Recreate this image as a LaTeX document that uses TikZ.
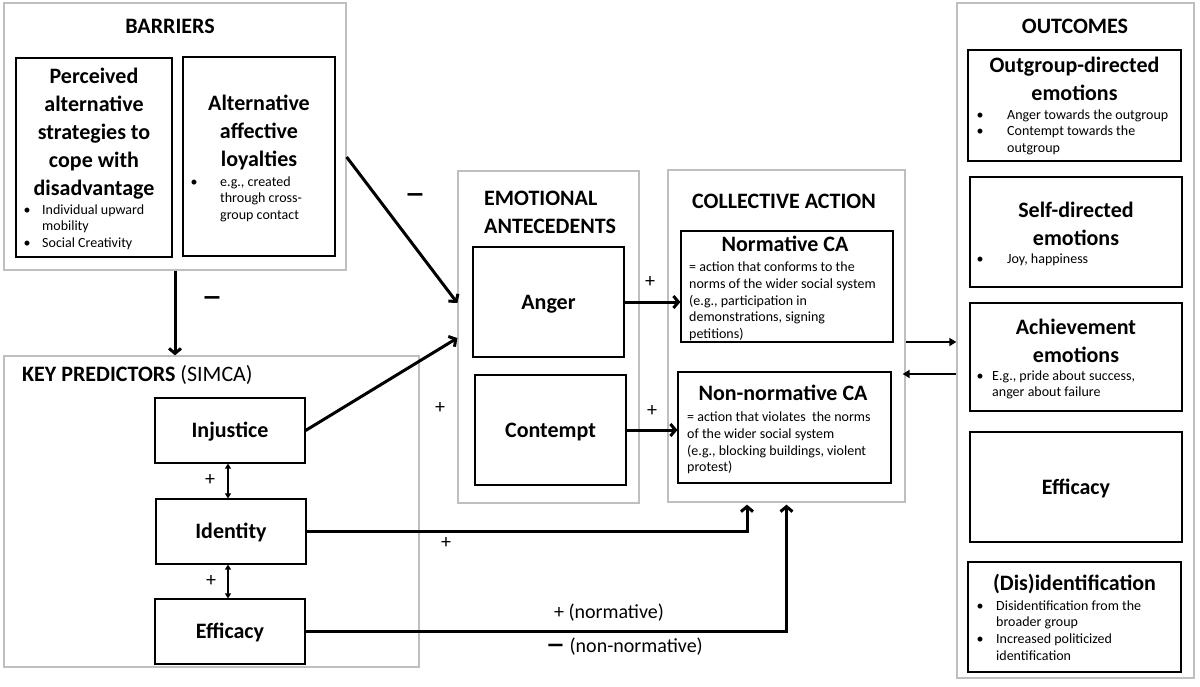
\documentclass[tikz,border=0pt]{standalone}
\usepackage{fontspec}
\setmainfont{Carlito}
\usetikzlibrary{fit,arrows.meta}
\definecolor{boxgray}{HTML}{BFBFBF}
\tikzset{
  grayb/.style={draw=boxgray, line width=1.3pt, inner sep=0pt},
  blk/.style={draw=black, line width=1.2pt, inner sep=0pt},
  ttl/.style={font=\fontsize{22}{28}\selectfont\bfseries, inner sep=0pt, align=center},
  hdr/.style={font=\fontsize{22}{28}\selectfont\bfseries, inner sep=0pt},
  ctr/.style={font=\fontsize{22}{28}\selectfont\bfseries, inner sep=0pt, text height=14pt, text depth=0pt},
  sml/.style={font=\fontsize{14}{16.7}\selectfont, inner sep=0pt, align=left},
  bul/.style={font=\fontsize{14}{16.7}\selectfont, inner sep=0pt, align=center, anchor=north},
  sgn/.style={font=\fontsize{20}{24}\selectfont, inner sep=0pt},
  dsh/.style={font=\fontsize{40}{40}\selectfont, inner sep=0pt, anchor=base},
  arr/.style={line width=3pt, -{Straight Barb[length=5pt,width=12pt]}},
  tarr/.style={line width=2pt, -{Triangle[length=7pt,width=8pt]}},
  darr/.style={line width=1.6pt, {Triangle[length=5pt,width=6pt]}-{Triangle[length=5pt,width=6pt]}}
}
\begin{document}
\begin{tikzpicture}[x=1pt,y=-1pt]
\path[use as bounding box] (0,0) rectangle (1200,686);

% ---------- BARRIERS ----------
\node[grayb, fit={(4,3) (346,270)}] (bar) {};
\node[hdr, anchor=base] (barT) at (170,33) {BARRIERS};
\node[blk, fit={(16,58) (172,257)}] (perc) {};
\node[ttl, anchor=north] (percT) at (94,63.4) {\strut Perceived\\alternative\\strategies to\\cope with\\disadvantage};
\node[bul] (percB) at (27,202.3) {\strut •\\\strut\\\strut •};
\node[sml, anchor=north west] (percL) at (42,202.3) {\strut Individual upward\\mobility\\Social Creativity};
\node[blk, fit={(183,57) (335,256)}] (alt) {};
\node[ttl, anchor=north] (altT) at (259,90.4) {\strut Alternative\\affective\\loyalties};
\node[bul] (altB) at (194,174.3) {\strut •};
\node[sml, anchor=north west] (altL) at (220,174.3) {\strut e.g., created\\through cross-\\group contact};

% ---------- KEY PREDICTORS ----------
\node[grayb, fit={(4,356) (419,667)}] (kp) {};
\node[hdr, anchor=base west] (kpT) at (22,381) {KEY PREDICTORS \mdseries(SIMCA)};
\node[blk, fit={(155,398) (305,463)}] (inj) {};
\node[ctr] (injT) at (inj.center) {Injustice};
\node[blk, fit={(156,499) (306,564)}] (ide) {};
\node[ctr] (ideT) at (ide.center) {Identity};
\node[blk, fit={(155,599) (305,664)}] (eff) {};
\node[ctr] (effT) at (eff.center) {Efficacy};

% ---------- EMOTIONAL ANTECEDENTS ----------
\node[grayb, fit={(458,171) (639,503)}] (emo) {};
\node[ttl, align=left, anchor=north west] (emoT) at (484,185.9) {\strut EMOTIONAL\\ANTECEDENTS};
\node[blk, fit={(473,247) (624,357)}] (ang) {};
\node[ctr] (angT) at (ang.center) {Anger};
\node[blk, fit={(475,375) (626,485)}] (con) {};
\node[ctr] (conT) at (con.center) {Contempt};

% ---------- COLLECTIVE ACTION ----------
\node[grayb, fit={(668,170) (905,502)}] (ca) {};
\node[hdr, anchor=base] (caT) at (784,208) {COLLECTIVE ACTION};
\node[blk, fit={(681,231) (893,342)}] (nor) {};
\node[hdr, anchor=base] (norT) at (785,251.7) {Normative CA};
\node[sml, anchor=north west] (norL) at (689,260) {\strut = action that conforms to the\\norms of the wider social system\\(e.g., participation in\\demonstrations, signing\\petitions)};
\node[blk, fit={(678,372) (891,483)}] (non) {};
\node[hdr, anchor=base] (nonT) at (783,400.7) {Non-normative CA};
\node[sml, anchor=north west] (nonL) at (687,410) {\strut = action that violates\ \ the norms\\of the wider social system\\(e.g., blocking buildings, violent\\protest)};

% ---------- OUTCOMES ----------
\node[grayb, fit={(957,3) (1194,678)}] (out) {};
\node[hdr, anchor=base] (outT) at (1075,33.3) {OUTCOMES};
\node[blk, fit={(968,50) (1181,161)}] (og) {};
\node[ttl, anchor=north] (ogT) at (1074.5,53.1) {\strut Outgroup-directed\\emotions};
\node[bul] (ogB) at (980,107.3) {\strut •\\\strut •};
\node[sml, anchor=north west] (ogL) at (1007,107.3) {\strut Anger towards the outgroup\\Contempt towards the\\outgroup};
\node[blk, fit={(970,177) (1182,287)}] (sd) {};
\node[ttl, anchor=north] (sdT) at (1076,197.4) {\strut Self-directed\\emotions};
\node[bul] (sdB) at (980,251.6) {\strut •};
\node[sml, anchor=north west] (sdL) at (1007,251.6) {\strut Joy, happiness};
\node[blk, fit={(970,303) (1182,411)}] (ach) {};
\node[ttl, anchor=north] (achT) at (1076,314.7) {\strut Achievement\\emotions};
\node[bul] (achB) at (980,368.3) {\strut •};
\node[sml, anchor=north west] (achL) at (992,368.3) {\strut E.g., pride about success,\\anger about failure};
\node[blk, fit={(970,432) (1182,542)}] (oef) {};
\node[ctr] (oefT) at (oef.center) {Efficacy};
\node[blk, fit={(968,562) (1181,672)}] (dis) {};
\node[hdr, anchor=base] (disT) at (1074.5,590) {(Dis)identification};
\node[bul] (disB) at (980,598.3) {\strut •\\\strut\\\strut •};
\node[sml, anchor=north west] (disL) at (996,598.3) {\strut Disidentification from the\\broader group\\Increased politicized\\identification};

% ---------- CONNECTORS ----------
\draw[arr] ([yshift=-20.5pt]bar.east) -- ([yshift=34pt]emo.west);
\draw[arr] (bar.south) -- (bar.south |- kp.north);
\draw[arr] (inj.east) -- ([yshift=-1pt]emo.west);
\draw[arr] (ang.east) -- (ang.east -| nor.west);
\draw[arr] (con.east) -- (con.east -| non.west);
\draw[darr] ([xshift=-2pt]inj.south) -- ([xshift=-2pt]inj.south |- ide.north);
\draw[darr] ([xshift=-3pt]ide.south) -- ([xshift=-3pt]ide.south |- eff.north);
\coordinate (caIn) at ([xshift=-39.5pt,yshift=-2pt]ca.south);
\draw[arr] (ide.east) -| (caIn);
\draw[arr] (eff.east) -| ([yshift=-2pt]ca.south);
\draw[tarr] ([yshift=-6pt]ca.east) -- ([yshift=-6pt]ca.east -| out.west);
\draw[tarr] ([yshift=-38pt]ca.east -| out.west) -- ([xshift=-3pt,yshift=-38pt]ca.east);

% ---------- SIGN LABELS ----------
\node[dsh] (m1) at (415,207) {−};
\node[dsh] (m2) at (212,310) {−};
\node[sgn] (p1) at (440,408) {+};
\node[sgn] (p2) at (650,282) {+};
\node[sgn] (p3) at (652,411) {+};
\node[sgn] (p4) at (446,543) {+};
\node[sgn] (p5) at (210,480) {+};
\node[sgn] (p6) at (211,581) {+};
\node[sgn, anchor=base] (pn) at (609,618) {+ (normative)};
\node[sgn, anchor=base] (mn) at (624.5,652) {{\fontsize{38}{38}\selectfont\raisebox{-5pt}{−}} (non-normative)};
\end{tikzpicture}
\end{document}
